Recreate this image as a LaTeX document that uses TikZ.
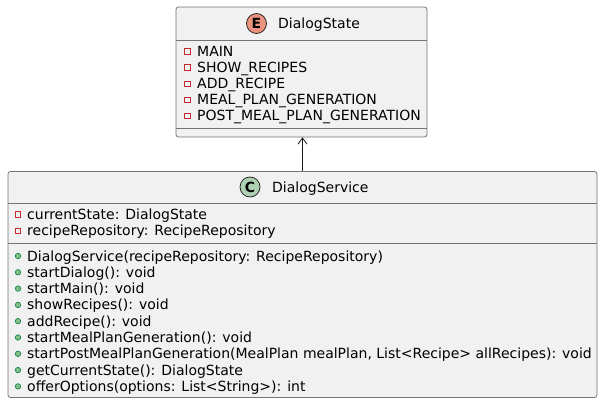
\documentclass[tikz,border=0pt]{standalone}
\usepackage{fontspec}
\setmainfont{DejaVu Sans}
\usetikzlibrary{arrows.meta}
\definecolor{boxfill}{HTML}{F1F1F1}
\definecolor{boxline}{HTML}{181818}
\definecolor{privred}{HTML}{C82930}
\definecolor{pubfill}{HTML}{84BE84}
\definecolor{publine}{HTML}{038048}
\definecolor{enumicon}{HTML}{EB937F}
\definecolor{classicon}{HTML}{ADD1B2}
\tikzset{
  umlbox/.style={draw=boxline!60, fill=boxfill, line width=0.8pt, rounded corners=2.5pt, inner sep=0pt},
  sep/.style={draw=boxline!60, line width=0.8pt},
  txt/.style={anchor=base west, inner sep=0pt, font=\fontsize{14}{16}\selectfont, text=black},
  ttl/.style={anchor=base west, inner sep=0pt, font=\fontsize{14}{16}\selectfont, text=black},
  icon/.style={circle, draw=boxline, line width=0.7pt, minimum size=20pt, inner sep=0pt, font=\fontsize{14}{14}\bfseries\selectfont},
  privmark/.style={draw=privred, line width=0.7pt, minimum size=5.5pt, inner sep=0pt},
  pubmark/.style={circle, fill=pubfill, draw=publine, line width=0.6pt, minimum size=5.5pt, inner sep=0pt},
  assoc/.style={draw=boxline, line width=0.8pt, -{Straight Barb[length=6pt,width=9pt]}}
}
\begin{document}
\begin{tikzpicture}[x=1pt,y=-1pt]
\useasboundingbox[fill=white] (0,0) rectangle (603,404);
% DialogState
\node[umlbox, minimum width=251pt, minimum height=130pt] (state) at (301.5,72) {};
\draw[sep] (176,40) -- (427,40);
\draw[sep] (176,128) -- (427,128);
\node[icon, fill=enumicon] (eicon) at (256.5,23.5) {E};
\node[ttl] (stitle) at (278,29) {DialogState};
\foreach \t [count=\i] in {MAIN,SHOW\_RECIPES,ADD\_RECIPE,MEAL\_PLAN\_GENERATION,POST\_MEAL\_PLAN\_GENERATION}{
  \pgfmathsetmacro{\yy}{51.5+16.1*(\i-1)}
  \node[privmark] (sm\i) at (187.5,\yy) {};
  \node[txt] (st\i) at (197,\yy+5) {\t};
}
% DialogService
\node[umlbox, minimum width=589pt, minimum height=226pt] (service) at (302.5,284.5) {};
\draw[sep] (8,203) -- (597,203);
\draw[sep] (8,243.5) -- (597,243.5);
\node[icon, fill=classicon] (cicon) at (250,187) {C};
\node[ttl] (ctitle) at (272,192) {DialogService};
\node[privmark] (am1) at (18,214.5) {};
\node[txt] (at1) at (27,219.5) {currentState: DialogState};
\node[privmark] (am2) at (18,230.8) {};
\node[txt] (at2) at (27,235.8) {recipeRepository: RecipeRepository};
\foreach \t [count=\i] in {%
  DialogService(recipeRepository: RecipeRepository),
  startDialog(): void,
  startMain(): void,
  showRecipes(): void,
  addRecipe(): void,
  startMealPlanGeneration(): void,
  {startPostMealPlanGeneration(MealPlan mealPlan, List<Recipe> allRecipes): void},
  getCurrentState(): DialogState,
  offerOptions(options: List<String>): int}{
  \pgfmathsetmacro{\yy}{256+16.3*(\i-1)}
  \node[pubmark] (mm\i) at (18,\yy) {};
  \node[txt] (mt\i) at (27,\yy+5) {\t};
}
\draw[assoc] (service.north) -- (service.north |- state.south);
\end{tikzpicture}
\end{document}
